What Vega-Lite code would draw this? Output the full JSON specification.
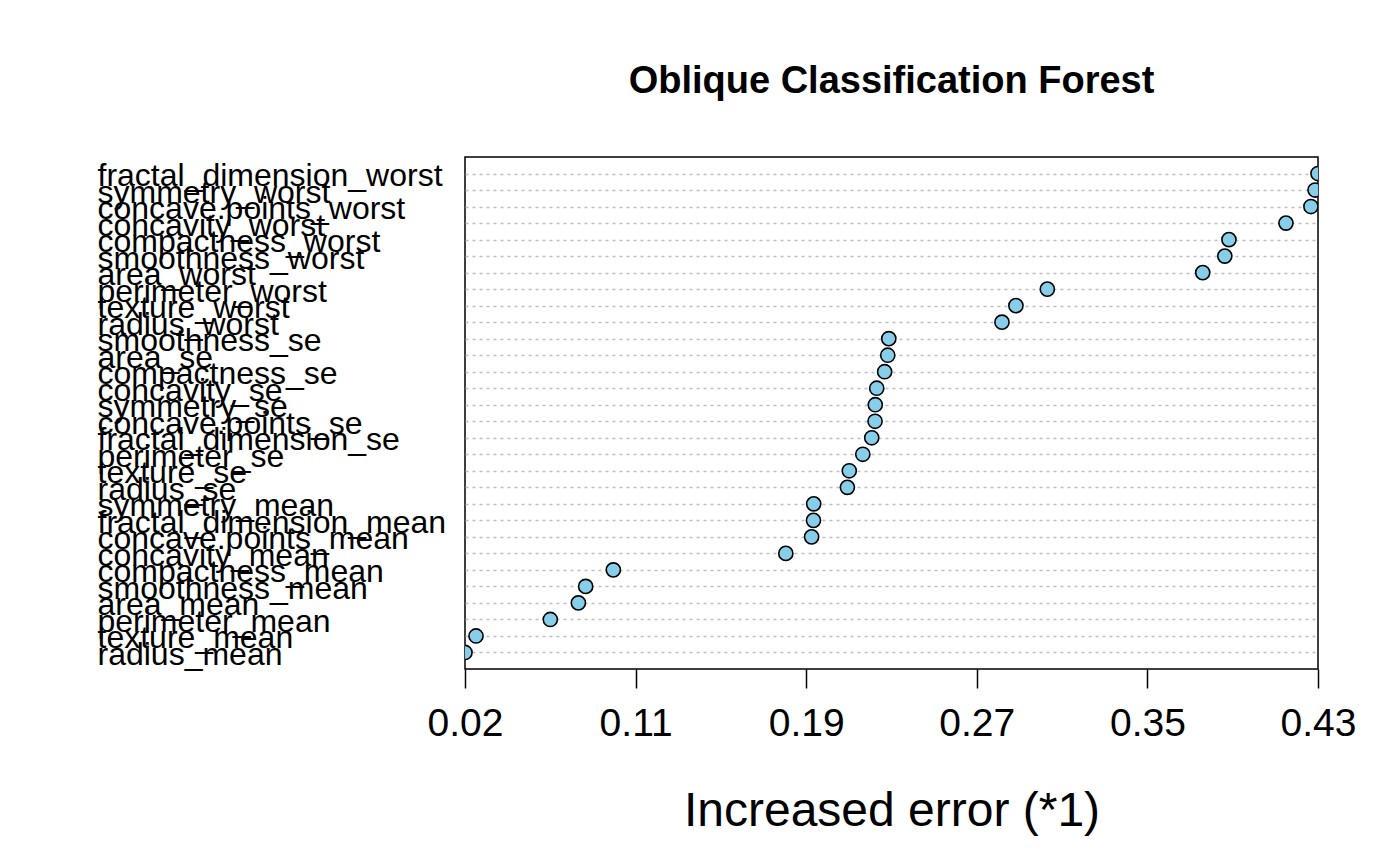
{
  "$schema": "https://vega.github.io/schema/vega-lite/v6.json",
  "autosize": "none",
  "width": 853,
  "height": 512,
  "padding": {"left": 465, "top": 157, "right": 82, "bottom": 197},
  "background": "white",
  "config": {
    "view": {"stroke": "black", "strokeWidth": 1.5},
    "font": "Liberation Sans"
  },
  "title": {
    "text": "Oblique Classification Forest",
    "font": "Liberation Sans",
    "fontSize": 38,
    "fontWeight": "bold",
    "color": "black",
    "anchor": "middle",
    "baseline": "alphabetic",
    "offset": 26
  },
  "data": {
    "values": [
      {"variable": "fractal_dimension_worst", "value": 0.4335},
      {"variable": "symmetry_worst", "value": 0.4321},
      {"variable": "concave.points_worst", "value": 0.4301},
      {"variable": "concavity_worst", "value": 0.4181},
      {"variable": "compactness_worst", "value": 0.3907},
      {"variable": "smoothness_worst", "value": 0.3887},
      {"variable": "area_worst", "value": 0.3781},
      {"variable": "perimeter_worst", "value": 0.3034},
      {"variable": "texture_worst", "value": 0.2883},
      {"variable": "radius_worst", "value": 0.2816},
      {"variable": "smoothness_se", "value": 0.2272},
      {"variable": "area_se", "value": 0.2267},
      {"variable": "compactness_se", "value": 0.2252},
      {"variable": "concavity_se", "value": 0.2214},
      {"variable": "symmetry_se", "value": 0.2207},
      {"variable": "concave.points_se", "value": 0.2206},
      {"variable": "fractal_dimension_se", "value": 0.219},
      {"variable": "perimeter_se", "value": 0.2147},
      {"variable": "texture_se", "value": 0.2082},
      {"variable": "radius_se", "value": 0.2073},
      {"variable": "symmetry_mean", "value": 0.1911},
      {"variable": "fractal_dimension_mean", "value": 0.191},
      {"variable": "concave.points_mean", "value": 0.1901},
      {"variable": "concavity_mean", "value": 0.1777},
      {"variable": "compactness_mean", "value": 0.0948},
      {"variable": "smoothness_mean", "value": 0.0815},
      {"variable": "area_mean", "value": 0.078},
      {"variable": "perimeter_mean", "value": 0.0645},
      {"variable": "texture_mean", "value": 0.0288},
      {"variable": "radius_mean", "value": 0.0235}
    ]
  },
  "mark": {
    "type": "point",
    "filled": true,
    "shape": "circle",
    "size": 200,
    "fill": "#87CEEB",
    "stroke": "black",
    "strokeWidth": 1.6,
    "opacity": 1,
    "clip": true
  },
  "encoding": {
    "x": {
      "field": "value",
      "type": "quantitative",
      "scale": {"domain": [0.0235, 0.4335], "nice": false, "zero": false},
      "axis": {
        "values": [0.0235, 0.1055, 0.1875, 0.2695, 0.3515, 0.4335],
        "format": ".2f",
        "grid": false,
        "domain": false,
        "ticks": true,
        "tickSize": 19,
        "tickWidth": 1.5,
        "tickColor": "black",
        "labelFont": "Liberation Sans",
        "labelFontSize": 39,
        "labelColor": "black",
        "labelPadding": 16,
        "labelFlush": false,
        "labelOverlap": false,
        "title": "Increased error (*1)",
        "titleFont": "Liberation Sans",
        "titleFontSize": 48,
        "titleFontWeight": "normal",
        "titleColor": "black",
        "titleBaseline": "alphabetic",
        "titleY": 156
      }
    },
    "y": {
      "field": "variable",
      "type": "nominal",
      "sort": null,
      "scale": {"type": "point", "padding": 1},
      "axis": {
        "title": null,
        "domain": false,
        "ticks": false,
        "tickSize": 0,
        "grid": true,
        "gridColor": "#bebebe",
        "gridDash": [3, 4],
        "gridWidth": 1.3,
        "labelFont": "Liberation Sans",
        "labelFontSize": 32,
        "labelColor": "black",
        "labelAlign": "left",
        "labelBaseline": "middle",
        "labelOffset": 2,
        "labelPadding": 368,
        "labelLimit": 0,
        "labelOverlap": false
      }
    }
  }
}
